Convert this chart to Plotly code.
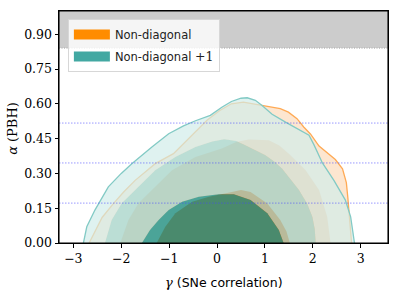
import plotly.graph_objects as go

# ---- data ----
# orange: "Non-diagonal" credible contours (outer -> inner), each from y=0 (left) to y=0 (right)
orange_c3_x = [-2.67, -2.55, -2.40, -2.16, -1.95, -1.71, -1.47, -1.29, -0.91, -0.63, -0.40, -0.21, 0.05, 0.30, 0.55, 0.94, 1.32, 1.49, 1.67, 1.81, 1.95, 2.13, 2.30, 2.47, 2.62, 2.70, 2.73, 2.77, 2.81]
orange_c3_y = [0.0, 0.05, 0.11, 0.171, 0.22, 0.27, 0.31, 0.342, 0.385, 0.443, 0.49, 0.529, 0.57, 0.60, 0.607, 0.593, 0.579, 0.564, 0.536, 0.50, 0.47, 0.418, 0.39, 0.36, 0.32, 0.26, 0.199, 0.113, 0.0]
orange_c2_x = [-2.02, -1.85, -1.64, -1.29, -0.94, -0.45, 0.10, 0.40, 0.66, 1.08, 1.30, 1.50, 1.85, 2.13, 2.30, 2.37]
orange_c2_y = [0.0, 0.099, 0.171, 0.242, 0.314, 0.371, 0.407, 0.435, 0.446, 0.443, 0.42, 0.385, 0.314, 0.228, 0.113, 0.0]
orange_c1_x = [-1.26, -1.08, -0.87, -0.52, -0.17, 0.31, 0.50, 0.70, 1.05, 1.32, 1.45, 1.52]
orange_c1_y = [0.0, 0.07, 0.128, 0.178, 0.199, 0.22, 0.228, 0.22, 0.17, 0.099, 0.05, 0.0]

# teal: "Non-diagonal +1" credible contours
teal_c3_x = [-2.79, -2.72, -2.55, -2.27, -2.00, -1.78, -1.36, -1.01, -0.70, -0.45, -0.14, 0.10, 0.30, 0.50, 0.63, 0.80, 0.94, 1.15, 1.43, 1.74, 1.92, 2.02, 2.20, 2.44, 2.68, 2.79, 2.84, 2.87]
teal_c3_y = [0.0, 0.07, 0.142, 0.242, 0.30, 0.342, 0.414, 0.471, 0.505, 0.527, 0.55, 0.585, 0.61, 0.624, 0.626, 0.615, 0.593, 0.555, 0.521, 0.486, 0.465, 0.425, 0.345, 0.27, 0.185, 0.113, 0.05, 0.0]
teal_c2_x = [-2.34, -2.20, -1.99, -1.64, -1.29, -0.87, -0.45, -0.10, 0.15, 0.40, 0.60, 0.80, 1.01, 1.20, 1.36, 1.55, 1.71, 1.88, 1.99, 2.04, 2.06]
teal_c2_y = [0.0, 0.099, 0.171, 0.242, 0.314, 0.371, 0.414, 0.438, 0.447, 0.44, 0.42, 0.40, 0.378, 0.35, 0.32, 0.27, 0.228, 0.17, 0.113, 0.06, 0.0]
teal_c1_x = [-1.57, -1.40, -1.22, -1.01, -0.73, -0.38, 0.03, 0.35, 0.70, 1.05, 1.29, 1.39]
teal_c1_y = [0.0, 0.056, 0.099, 0.142, 0.178, 0.199, 0.21, 0.21, 0.185, 0.128, 0.056, 0.0]

ref_lines_y = [0.172, 0.345, 0.517]
excluded_band = [0.84, 1.0]
x_ticks = [-3, -2, -1, 0, 1, 2, 3]
y_ticks = [0.00, 0.15, 0.30, 0.45, 0.60, 0.75, 0.90]
series_names = ["Non-diagonal",
                "Non-diagonal <span style='font-family:DejaVu Serif;font-size:12.5px'>+1</span>"]

# ---- styles ----
orange_fills = ["rgb(253,230,208)", "rgb(250,198,155)", "rgb(247,112,10)"]
teal_fills = ["rgba(210,236,234,0.7)", "rgba(158,218,215,0.7)", "rgba(0,150,151,0.7)"]
legend_colors = ["rgb(255,140,0)", "rgb(66,168,162)"]

fig = go.Figure()

# orange filled levels (nested, opaque)
for cx, cy, col in [(orange_c3_x, orange_c3_y, orange_fills[0]),
                    (orange_c2_x, orange_c2_y, orange_fills[1]),
                    (orange_c1_x, orange_c1_y, orange_fills[2])]:
    fig.add_trace(go.Scatter(x=cx, y=cy, fill="toself", fillcolor=col, mode="none",
                             showlegend=False, hoverinfo="skip"))
fig.add_trace(go.Scatter(x=orange_c3_x, y=orange_c3_y, mode="lines",
                         line=dict(color="rgb(255,170,85)", width=1.3),
                         showlegend=False, hoverinfo="skip"))

# teal filled bands (non-overlapping, translucent)
bands = [
    (teal_c3_x + teal_c2_x[::-1], teal_c3_y + teal_c2_y[::-1], teal_fills[0]),
    (teal_c2_x + teal_c1_x[::-1], teal_c2_y + teal_c1_y[::-1], teal_fills[1]),
    (teal_c1_x, teal_c1_y, teal_fills[2]),
]
for bx, by, col in bands:
    fig.add_trace(go.Scatter(x=bx, y=by, fill="toself", fillcolor=col, mode="none",
                             showlegend=False, hoverinfo="skip"))
fig.add_trace(go.Scatter(x=teal_c3_x, y=teal_c3_y, mode="lines",
                         line=dict(color="rgb(130,202,197)", width=1.3),
                         showlegend=False, hoverinfo="skip"))

# legend entries
for i, (name, col) in enumerate(zip(series_names, legend_colors)):
    fig.add_trace(go.Scatter(x=[None], y=[None], mode="lines", name=name,
                             line=dict(color=col, width=11), legendgroup=f"g{i}"))

shapes = [dict(type="rect", xref="paper", yref="y", x0=0, x1=1,
               y0=excluded_band[0], y1=excluded_band[1],
               fillcolor="rgb(204,204,204)", line=dict(width=0), layer="below"),
          dict(type="line", xref="paper", yref="y", x0=0, x1=1,
               y0=excluded_band[0], y1=excluded_band[0],
               line=dict(color="rgb(165,165,165)", width=1, dash="1px,1.5px"), layer="below")]
for yv in ref_lines_y:
    shapes.append(dict(type="line", xref="paper", yref="y", x0=0, x1=1, y0=yv, y1=yv,
                       line=dict(color="rgba(70,70,255,0.55)", width=1, dash="1.5px,1.5px"),
                       layer="above"))
# axes frame
shapes.append(dict(type="rect", xref="paper", yref="paper", x0=0, x1=1, y0=0, y1=1,
                   line=dict(color="black", width=1.1), fillcolor="rgba(0,0,0,0)", layer="above"))

serif = "DejaVu Serif"
fig.update_layout(
    width=399, height=300,
    margin=dict(l=59, r=11, t=11, b=57),
    paper_bgcolor="white", plot_bgcolor="white",
    shapes=shapes,
    showlegend=True,
    legend=dict(x=0.027, y=0.9655, xanchor="left", yanchor="top",
                bgcolor="rgba(255,255,255,0.8)", bordercolor="rgb(215,215,215)", borderwidth=1,
                font=dict(family="DejaVu Sans", size=11.5, color="#222"),
                traceorder="grouped", tracegroupgap=3, itemwidth=36),
    xaxis=dict(range=[-3.3, 3.57], tickvals=x_ticks, ticks="outside", ticklen=3.5, tickwidth=1,
               tickcolor="black", showline=True, linecolor="black", linewidth=1, mirror=True,
               showgrid=False, zeroline=False,
               tickfont=dict(family=serif, size=12.5, color="black")),
    yaxis=dict(range=[0, 1.0], tickvals=y_ticks, tickformat=".2f", ticks="outside", ticklen=3.5,
               tickwidth=1, tickcolor="black", showline=True, linecolor="black", linewidth=1,
               mirror=True, showgrid=False, zeroline=False,
               tickfont=dict(family=serif, size=12.5, color="black")),
    annotations=[
        dict(text="<span style='font-family:DejaVu Serif;font-size:13px'><i>γ</i></span> (SNe correlation)",
             xref="paper", yref="paper", x=0.5, y=-0.172, xanchor="center", yanchor="middle",
             showarrow=False, font=dict(family="DejaVu Sans", size=12.5, color="black")),
        dict(text="<i>α</i> (PBH)", xref="paper", yref="paper", x=-0.14, y=0.496,
             xanchor="center", yanchor="middle", textangle=-90, showarrow=False,
             font=dict(family=serif, size=13, color="black")),
    ],
)

fig.write_html("out.html", config={"displayModeBar": False},
               post_script="document.body.style.margin='0';")
